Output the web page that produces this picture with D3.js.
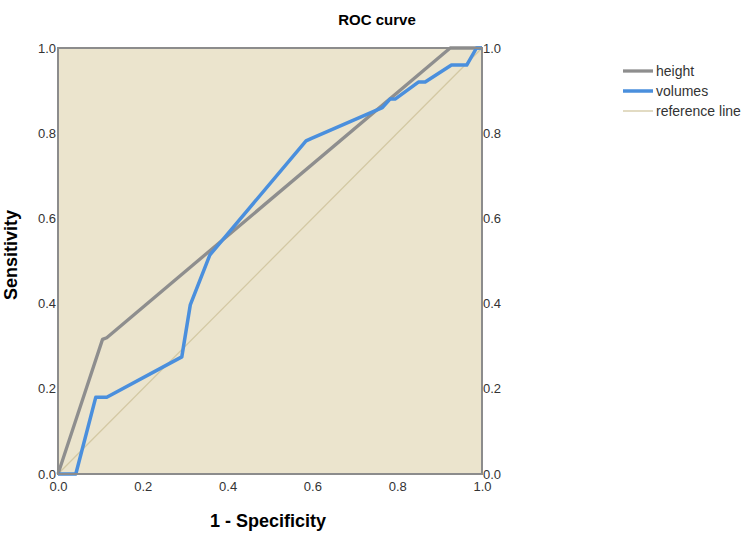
<!DOCTYPE html>
<html>
<head>
<meta charset="utf-8">
<script src="https://cdn.jsdelivr.net/npm/d3@7"></script>
<style>
  body { margin: 0; background: #fff; }
  text { font-family: "Liberation Sans", Arial, sans-serif; }
</style>
</head>
<body>
<div id="chart"></div>
<script>
// ROC curve, two tests + reference line
var svgWidth = 750;
var svgHeight = 534;
var margin = {top: 48, left: 58};
var width = 424;
var height = 426;

// data
var heightX = [0, 0.105, 0.115, 0.925, 1];
var heightY = [0, 0.316, 0.32, 1, 1];
var volumesX = [0, 0.042, 0.089, 0.115, 0.292, 0.312, 0.358, 0.585, 0.598, 0.765, 0.783, 0.795, 0.85, 0.866, 0.928, 0.964, 0.987, 1];
var volumesY = [0, 0, 0.18, 0.18, 0.275, 0.397, 0.514, 0.782, 0.788, 0.86, 0.88, 0.88, 0.92, 0.92, 0.96, 0.96, 1, 1];
var refX = [0, 1];
var refY = [0, 1];
var tickValues = [0, 0.2, 0.4, 0.6, 0.8, 1.0];
var seriesNames = ["height", "volumes", "reference line"];

var colors = {height: "#8e8e8e", volumes: "#4a8fdd", ref: "#d3c8a3"};

var svg = d3.select("#chart")
  .append("svg")
  .attr("width", svgWidth)
  .attr("height", svgHeight);

var chartGroup = svg.append("g")
  .attr("transform", `translate(${margin.left}, ${margin.top})`);

// scales
var x = d3.scaleLinear().domain([0, 1]).range([0, width]);
var y = d3.scaleLinear().domain([0, 1]).range([height, 0]);

// background
chartGroup.append("rect")
  .attr("width", width)
  .attr("height", height)
  .attr("fill", "#ebe4cd");

// axes
function styleAxis(g) {
  g.select(".domain").remove();
  g.selectAll("text")
    .attr("font-size", "13px")
    .attr("fill", "#333");
}
chartGroup.append("g")
  .call(d3.axisLeft(y).tickValues(tickValues).tickFormat(d3.format(".1f")).tickSize(0).tickPadding(2))
  .call(styleAxis);
chartGroup.append("g")
  .attr("transform", `translate(${width}, 0)`)
  .call(d3.axisRight(y).tickValues(tickValues).tickFormat(d3.format(".1f")).tickSize(0).tickPadding(1))
  .call(styleAxis);
chartGroup.append("g")
  .attr("transform", `translate(0, ${height})`)
  .call(d3.axisBottom(x).tickValues(tickValues).tickFormat(d3.format(".1f")).tickSize(0).tickPadding(8))
  .call(styleAxis);

// lines
function pts(xs, ys) {
  return xs.map((v, i) => [v, ys[i]]);
}
var line = d3.line()
  .x(d => x(d[0]))
  .y(d => y(d[1]));

chartGroup.append("path")
  .datum(pts(refX, refY))
  .attr("d", line)
  .attr("fill", "none")
  .attr("stroke", colors.ref)
  .attr("stroke-width", 1.3);

chartGroup.append("path")
  .datum(pts(heightX, heightY))
  .attr("d", line)
  .attr("fill", "none")
  .attr("stroke", colors.height)
  .attr("stroke-width", 3.3)
  .attr("stroke-linejoin", "round");

chartGroup.append("path")
  .datum(pts(volumesX, volumesY))
  .attr("d", line)
  .attr("fill", "none")
  .attr("stroke", colors.volumes)
  .attr("stroke-width", 3.5)
  .attr("stroke-linejoin", "round");

// frame
chartGroup.append("rect")
  .attr("width", width)
  .attr("height", height)
  .attr("fill", "none")
  .attr("stroke", "#8c8c8c")
  .attr("stroke-width", 2);

// title + axis labels
svg.append("text")
  .attr("x", 377)
  .attr("y", 25)
  .attr("text-anchor", "middle")
  .attr("font-size", "15px")
  .attr("font-weight", "bold")
  .text("ROC curve");

svg.append("text")
  .attr("x", margin.left + width / 2 - 2)
  .attr("y", 527)
  .attr("text-anchor", "middle")
  .attr("font-size", "18px")
  .attr("font-weight", "bold")
  .text("1 - Specificity");

svg.append("text")
  .attr("transform", "rotate(-90)")
  .attr("x", -255)
  .attr("y", 17)
  .attr("text-anchor", "middle")
  .attr("font-size", "18px")
  .attr("font-weight", "bold")
  .text("Sensitivity");

// legend
var legendColors = [colors.height, colors.volumes, colors.ref];
var legendWidths = [3.3, 3.5, 1.3];
var legend = svg.append("g").attr("transform", "translate(623, 71)");
seriesNames.forEach(function(name, i) {
  var row = legend.append("g").attr("transform", `translate(0, ${i * 20})`);
  row.append("line")
    .attr("x1", 0).attr("x2", 30)
    .attr("stroke", legendColors[i])
    .attr("stroke-width", legendWidths[i]);
  row.append("text")
    .attr("x", 33)
    .attr("y", 5)
    .attr("font-size", "14px")
    .attr("fill", "#333")
    .text(name);
});
</script>
</body>
</html>
